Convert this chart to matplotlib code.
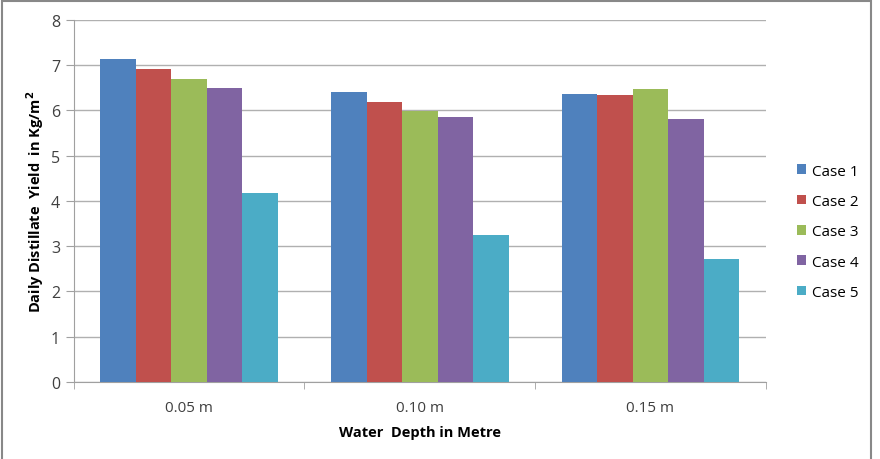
import numpy as np
import matplotlib
matplotlib.use("Agg")
import matplotlib.pyplot as plt
from matplotlib.patches import Rectangle

depths = ["0.05 m", "0.10 m", "0.15 m"]
cases = ["Case 1", "Case 2", "Case 3", "Case 4", "Case 5"]
case1 = [7.14, 6.41, 6.37]
case2 = [6.92, 6.19, 6.34]
case3 = [6.70, 5.98, 6.48]
case4 = [6.49, 5.86, 5.81]
case5 = [4.17, 3.24, 2.72]
colors = ["#4f81bd", "#c0504d", "#9bbb59", "#8064a2", "#4bacc6"]

plt.rcParams["font.family"] = ["Open Sans", "DejaVu Sans"]

fig = plt.figure(figsize=(8.8, 4.6), dpi=100)
ax = fig.add_axes([0.084, 0.1674, 0.786, 0.787])

x = np.arange(len(depths))
w = 0.154
for i, (vals, name) in enumerate(zip([case1, case2, case3, case4, case5], cases)):
    ax.bar(x + (i - 2) * w, vals, w, color=colors[i], label=name, zorder=3)

ax.set_xlim(-0.5, 2.5)
ax.set_ylim(0, 8)
ax.set_yticks(range(0, 9))
ax.yaxis.grid(True, color="#b0b0b0", linewidth=1.0, zorder=0)
ax.set_xticks(x)
ax.set_xticklabels(depths)
ax.set_xticks([-0.5, 0.5, 1.5, 2.5], minor=True)
ax.tick_params(axis="x", which="major", length=0, pad=13, labelsize=11, labelcolor="#404040")
ax.tick_params(axis="x", which="minor", length=5, color="#a0a0a0", direction="out")
ax.tick_params(axis="y", length=6, color="#a0a0a0", labelsize=11.5, labelcolor="#404040", pad=4)
for s in ["top", "right"]:
    ax.spines[s].set_visible(False)
for s in ["left", "bottom"]:
    ax.spines[s].set_color("#a0a0a0")

ax.set_xlabel("Water  Depth in Metre", fontsize=10.5, fontweight="bold", labelpad=7)
ax.set_ylabel(r"Daily Distillate  Yield  in Kg/m$^\mathbf{2}$", fontsize=10.5, fontweight="bold")
ax.yaxis.set_label_coords(-0.04, 0.5)

ax.legend(loc="center left", bbox_to_anchor=(1.025, 0.415), frameon=False, fontsize=11,
          handlelength=0.6, handleheight=0.6, handletextpad=0.4, labelspacing=1.0)

fig.patches.append(Rectangle((2 / 880, -0.05), 869 / 880, 1.05 - 1.5 / 460, transform=fig.transFigure,
                             fill=False, edgecolor="#888888", linewidth=1.5))

fig.savefig("out.png", dpi=100)
